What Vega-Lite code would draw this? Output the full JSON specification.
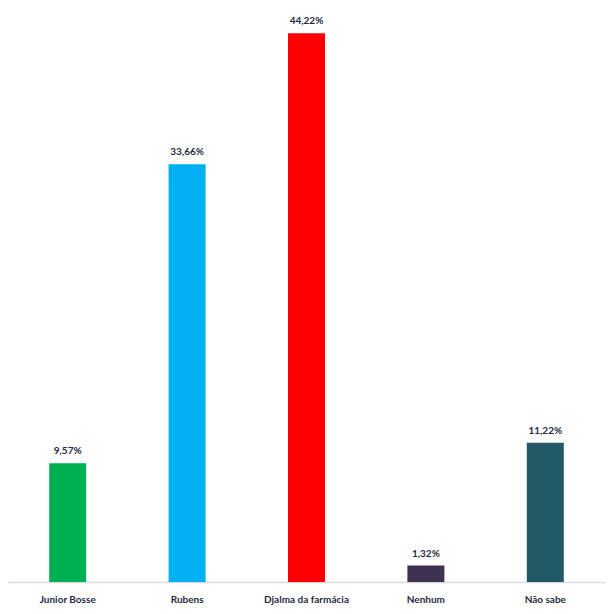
{
  "$schema": "https://vega.github.io/schema/vega-lite/v6.json",
  "autosize": "none",
  "width": 597,
  "height": 572,
  "padding": {"left": 8, "top": 10, "right": 10, "bottom": 32},
  "background": "white",
  "data": {"values": [
    {"candidato": "Junior Bosse", "pct": 9.57, "label": "9,57%", "cor": "#00b050"},
    {"candidato": "Rubens", "pct": 33.66, "label": "33,66%", "cor": "#00b0f0"},
    {"candidato": "Djalma da farmácia", "pct": 44.22, "label": "44,22%", "cor": "#ff0000"},
    {"candidato": "Nenhum", "pct": 1.32, "label": "1,32%", "cor": "#3f3152"},
    {"candidato": "Não sabe", "pct": 11.22, "label": "11,22%", "cor": "#215967"}
  ]},
  "encoding": {
    "x": {"field": "candidato", "type": "nominal", "sort": null,
      "scale": {"paddingInner": 0.69, "paddingOuter": 0.345},
      "axis": {"title": null, "labelAngle": 0, "ticks": false, "domainColor": "#d9d9d9", "domainWidth": 1.5,
        "labelFont": "Lato", "labelFontSize": 10, "labelFontWeight": "bold", "labelColor": "#1f2a44", "labelPadding": 12}},
    "y": {"field": "pct", "type": "quantitative", "scale": {"domain": [0, 46.1]}, "axis": null}
  },
  "layer": [
    {"mark": {"type": "bar"}, "encoding": {"color": {"field": "cor", "type": "nominal", "scale": null}}},
    {"mark": {"type": "text", "dy": -12, "font": "Lato", "fontSize": 10, "fontWeight": "bold", "color": "#1f2a44"},
     "encoding": {"text": {"field": "label"}}}
  ],
  "config": {"view": {"stroke": null}}
}
